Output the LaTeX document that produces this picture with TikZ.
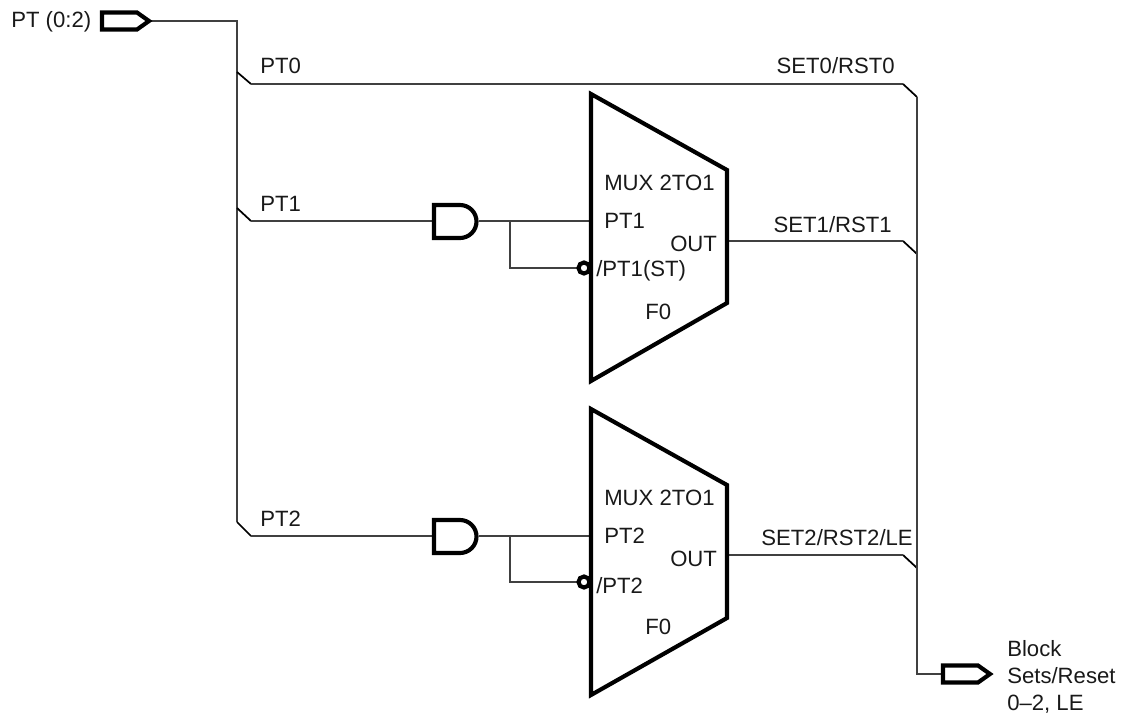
\documentclass[tikz,border=0pt]{standalone}
\usepackage{fontspec}
\setmainfont{Liberation Sans}
\begin{document}
\begin{tikzpicture}[x=0.75pt,y=-0.75pt,
  wire/.style={line width=0.85pt,black!75},
  tick/.style={line width=1.3pt,black},
  heavy/.style={line width=3.1pt,black,line join=miter},
  lbl/.style={inner sep=0pt,yshift=-0.75pt,font=\fontsize{16.6pt}{20pt}\selectfont,text=black!90,anchor=west}]
\useasboundingbox (0,0) rectangle (1124,714);
% junctions
\coordinate (inTip) at (149,21);
\coordinate (busTop) at (237,21);
\coordinate (busBot) at (237,522);
\coordinate (t0a) at (237,72); \coordinate (t0b) at (251,84);
\coordinate (t1a) at (237,208); \coordinate (t1b) at (251,221);
\coordinate (t2a) at (237,522); \coordinate (t2b) at (251,536);
\coordinate (s0a) at (903,84); \coordinate (s0b) at (917,97);
\coordinate (s1a) at (903,241); \coordinate (s1b) at (917,254);
\coordinate (s2a) at (903,555); \coordinate (s2b) at (917,568);
\coordinate (rBot) at (917,674);
\coordinate (outL) at (943,674);
\coordinate (and1in) at (434,221); \coordinate (and1out) at (479,221);
\coordinate (and2in) at (434,536); \coordinate (and2out) at (479,536);
\coordinate (j1) at (510,221); \coordinate (j1b) at (510,268);
\coordinate (j2) at (510,536); \coordinate (j2b) at (510,582);
\coordinate (m1a) at (591,221); \coordinate (m2a) at (591,536);
\coordinate (m1o) at (727,241); \coordinate (m2o) at (727,555);
% wires
\draw[wire] (inTip) -- (busTop) -- (busBot);
\draw[tick] (t0a) -- (t0b); \draw[tick] (t1a) -- (t1b); \draw[tick] (t2a) -- (t2b);
\draw[wire] (t0b) -- (s0a);
\draw[tick] (s0a) -- (s0b); \draw[tick] (s1a) -- (s1b); \draw[tick] (s2a) -- (s2b);
\draw[wire] (s0b) -- (rBot) -- (outL);
\draw[wire] (t1b) -- (and1in);
\draw[wire] (t2b) -- (and2in);
\draw[wire] (and1out) -- (m1a);
\draw[wire] (and2out) -- (m2a);
\draw[wire] (j1) -- (j1b) -- (578,268);
\draw[wire] (j2) -- (j2b) -- (578,582);
\draw[wire] (m1o) -- (s1a);
\draw[wire] (m2o) -- (s2a);
% ports
\draw[heavy] (102,12.5) -- (137,12.5) -- (inTip) -- (137,29.5) -- (102,29.5) -- cycle;
\draw[heavy] (943,665.5) -- (978,665.5) -- (990,674) -- (978,682.5) -- (943,682.5) -- cycle;
% AND gates
\draw[heavy,fill=white] (434,205) -- (460,205) arc[start angle=-90,end angle=90,radius=16.5] -- (434,238) -- cycle;
\draw[heavy,fill=white] (434,520) -- (460,520) arc[start angle=-90,end angle=90,radius=16.5] -- (434,553) -- cycle;
% muxes
\draw[heavy] (591,94) -- (727,170) -- (727,303) -- (591,381) -- cycle;
\draw[heavy] (591,409) -- (727,485) -- (727,618) -- (591,695) -- cycle;
\draw[heavy,fill=white] (584,268) circle[radius=5.5];
\draw[heavy,fill=white] (584,582) circle[radius=5.5];
% labels
\node[lbl] (a) at (11,21) {PT (0:2)};
\node[lbl] (b) at (260,65) {PT0};
\node[lbl] (c) at (260,203) {PT1};
\node[lbl] (d) at (260,518) {PT2};
\node[lbl,anchor=east] (e) at (895,65) {SET0/RST0};
\node[lbl,anchor=east] (f) at (892,224) {SET1/RST1};
\node[lbl,anchor=east] (g) at (913,537) {SET2/RST2/LE};
\node[lbl] (h) at (604,182) {MUX 2TO1};
\node[lbl] (i) at (604,220) {PT1};
\node[lbl] (j) at (670,243) {OUT};
\node[lbl] (k) at (596,270) {/PT1(ST)};
\node[lbl] (l) at (645,311) {F0};
\node[lbl] (m) at (604,497) {MUX 2TO1};
\node[lbl] (n) at (604,535) {PT2};
\node[lbl] (o) at (670,558) {OUT};
\node[lbl] (p) at (596,585) {/PT2};
\node[lbl] (q) at (645,626) {F0};
\node[lbl] (r) at (1007,648) {Block};
\node[lbl] (s) at (1007,675) {Sets/Reset};
\node[lbl] (u) at (1007,703) {0–2, LE};
\end{tikzpicture}
\end{document}
